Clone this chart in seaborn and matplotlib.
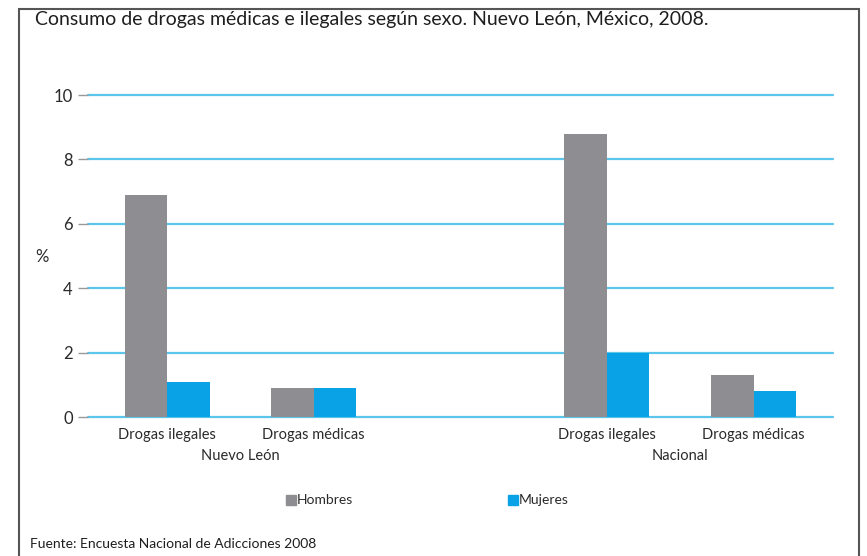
import numpy as np
import pandas as pd
import matplotlib
matplotlib.use("Agg")
import matplotlib.pyplot as plt
import seaborn as sns
from matplotlib.patches import Rectangle

# data
slots = ["nl_ilegales", "nl_medicas", "gap", "nac_ilegales", "nac_medicas"]
slot_labels = ["Drogas ilegales", "Drogas médicas", "", "Drogas ilegales", "Drogas médicas"]
categories = ["nl_ilegales", "nl_medicas", "nac_ilegales", "nac_medicas"]
hombres = [6.9, 0.9, 8.8, 1.3]
mujeres = [1.1, 0.9, 2.0, 0.8]
groups = ["Nuevo León", "Nacional"]
yticks = [0, 2, 4, 6, 8, 10]

df = pd.DataFrame({
    "Categoria": categories * 2,
    "Sexo": ["Hombres"] * 4 + ["Mujeres"] * 4,
    "Valor": hombres + mujeres,
})

sns.set_theme(style="white")
plt.rcParams["font.family"] = ["Lato", "DejaVu Sans"]

fig = plt.figure(figsize=(8.67, 5.56), dpi=100)
ax = fig.add_axes([0.1015, 0.25, 0.859, 0.579])

for y in yticks:
    ax.axhline(y, color="#5cc6ea", lw=1.6, zorder=0, clip_on=False)

sns.barplot(data=df, x="Categoria", y="Valor", hue="Sexo", order=slots,
            palette={"Hombres": "#8e8d92", "Mujeres": "#0aa2e6"},
            width=0.58, saturation=1, linewidth=0, ax=ax, legend=False, zorder=2)

ax.set_xlim(-0.54, 4.54)
ax.set_ylim(0, 10)
ax.set_yticks(yticks)
ax.set_yticklabels([str(v) for v in yticks], fontsize=12, color="#2a2a2a")
ax.tick_params(axis="y", length=7, width=1, color="#999999", left=True, pad=4)
ax.set_xticks(range(len(slots)))
ax.set_xticklabels(slot_labels, fontsize=10.5, color="#2a2a2a")
ax.tick_params(axis="x", length=0, pad=8)
ax.set_xlabel("")
ax.set_ylabel("")
for s in ax.spines.values():
    s.set_visible(False)

# group labels under the tick labels
ax.text(0.5, -0.1, groups[0], transform=ax.get_xaxis_transform(),
        ha="center", va="top", fontsize=10.5, color="#2a2a2a")
ax.text(3.5, -0.1, groups[1], transform=ax.get_xaxis_transform(),
        ha="center", va="top", fontsize=10.5, color="#2a2a2a")

fig.text(35 / 867, 1 - 257 / 556, "%", fontsize=12, color="#2a2a2a", va="center")

fig.text(35 / 867, 1 - 19 / 556,
         "Consumo de drogas médicas e ilegales según sexo. Nuevo León, México, 2008.",
         fontsize=14, color="#1e1e1e", va="center")

# legend
fig.patches.append(Rectangle((286 / 867, 1 - 505 / 556), 10 / 867, 10 / 556,
                             transform=fig.transFigure, color="#8e8d92"))
fig.text(297 / 867, 1 - 500 / 556, "Hombres", fontsize=10, color="#2a2a2a", va="center")
fig.patches.append(Rectangle((508 / 867, 1 - 505 / 556), 10 / 867, 10 / 556,
                             transform=fig.transFigure, color="#0aa2e6"))
fig.text(519 / 867, 1 - 500 / 556, "Mujeres", fontsize=10, color="#2a2a2a", va="center")

fig.text(30 / 867, 1 - 544 / 556, "Fuente: Encuesta Nacional de Adicciones 2008",
         fontsize=10, color="#1e1e1e", va="center")

# outer frame
fig.patches.append(Rectangle((19 / 867, -0.05), 840 / 867, 1.05 - 9 / 556,
                             transform=fig.transFigure, fill=False,
                             edgecolor="#555555", lw=1.5))

fig.savefig("out.png", dpi=100)
